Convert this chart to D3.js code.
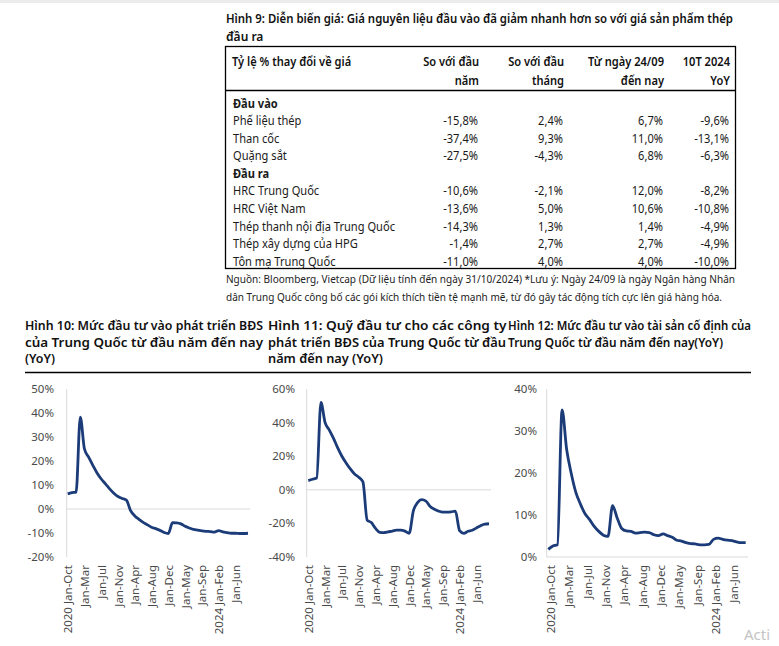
<!doctype html>
<html>
  <head>
    <meta charset="utf-8">
    <title>Hình 9 - 12</title>
    <script src="https://cdn.jsdelivr.net/npm/d3@7"></script>
    <style>
      body { margin: 0; background: #fff; }
      svg text { font-family: "Noto Sans", "DejaVu Sans", sans-serif; }
    </style>
  </head>
  <body>
    <script>
      // ---- Bảng Hình 9 ----
      const tableTitle = ['Hình 9: Diễn biến giá: Giá nguyên liệu đầu vào đã giảm nhanh hơn so với giá sản phẩm thép', 'đầu ra'];
      const colHeads = [['Tỷ lệ % thay đổi về giá'], ['So với đầu', 'năm'], ['So với đầu', 'tháng'], ['Từ ngày 24/09', 'đến nay'], ['10T 2024', 'YoY']];
      const groups = ['Đầu vào', 'Đầu ra'];
      const items = ['Phế liệu thép', 'Than cốc', 'Quặng sắt', 'HRC Trung Quốc', 'HRC Việt Nam',
        'Thép thanh nội địa Trung Quốc', 'Thép xây dựng của HPG', 'Tôn mạ Trung Quốc'];
      const itemGroup = [0, 0, 0, 1, 1, 1, 1, 1];
      const vsYearStart = [-15.8, -37.4, -27.5, -10.6, -13.6, -14.3, -1.4, -11.0];
      const vsMonthStart = [2.4, 9.3, -4.3, -2.1, 5.0, 1.3, 2.7, 4.0];
      const since2409 = [6.7, 11.0, 6.8, 12.0, 10.6, 1.4, 2.7, 4.0];
      const yoy10T = [-9.6, -13.1, -6.3, -8.2, -10.8, -4.9, -4.9, -10.0];
      const footnote = ['Nguồn: Bloomberg, Vietcap (Dữ liệu tính đến ngày 31/10/2024) *Lưu ý: Ngày 24/09 là ngày Ngân hàng Nhân',
        'dân Trung Quốc công bố các gói kích thích tiền tệ mạnh mẽ, từ đó gây tác động tích cực lên giá hàng hóa.'];

      // ---- Biểu đồ Hình 10 - 12 ----
      const periods = ['2020 Jan-Oct', 'Jan-Nov', 'Jan-Dec',
        '2021 Jan-Feb', 'Jan-Mar', 'Jan-Apr', 'Jan-May', 'Jan-Jun', 'Jan-Jul', 'Jan-Aug', 'Jan-Sep', 'Jan-Oct', 'Jan-Nov', 'Jan-Dec',
        '2022 Jan-Feb', 'Jan-Mar', 'Jan-Apr', 'Jan-May', 'Jan-Jun', 'Jan-Jul', 'Jan-Aug', 'Jan-Sep', 'Jan-Oct', 'Jan-Nov', 'Jan-Dec',
        '2023 Jan-Feb', 'Jan-Mar', 'Jan-Apr', 'Jan-May', 'Jan-Jun', 'Jan-Jul', 'Jan-Aug', 'Jan-Sep', 'Jan-Oct', 'Jan-Nov', 'Jan-Dec',
        '2024 Jan-Feb', 'Jan-Mar', 'Jan-Apr', 'Jan-May', 'Jan-Jun', 'Jan-Jul', 'Jan-Aug', 'Jan-Sep'];
      const reInvestment = [6.3, 6.8, 7.0, 38.3, 25.0, 21.6, 18.2, 15.0, 12.5, 10.5, 8.4, 6.6, 5.2, 4.4,
        3.7, -0.7, -2.9, -4.3, -5.6, -6.6, -7.6, -8.2, -8.9, -9.8, -10.2,
        -5.7, -5.8, -6.2, -7.2, -7.9, -8.5, -8.8, -9.1, -9.3, -9.4, -9.6,
        -9.0, -9.5, -9.8, -10.1, -10.1, -10.2, -10.2, -10.1];
      const devFunding = [5.5, 6.3, 7.0, 52.0, 40.0, 35.5, 30.6, 25.0, 20.0, 16.0, 12.4, 9.4, 7.5, 4.7,
        -18.0, -19.5, -23.0, -25.3, -25.5, -25.0, -24.6, -24.0, -24.0, -24.6, -25.9,
        -12.5, -7.6, -5.9, -6.7, -10.0, -11.6, -12.7, -13.3, -13.3, -13.1, -12.7,
        -24.3, -25.9, -24.7, -24.1, -22.7, -21.4, -20.4, -20.2];
      const fixedAsset = [1.8, 2.6, 2.9, 35.0, 25.6, 19.9, 15.4, 12.6, 10.3, 8.9, 7.3, 6.1, 5.2, 4.9,
        12.2, 9.3, 6.8, 6.2, 6.1, 5.7, 5.8, 5.9, 5.8, 5.3, 5.1,
        5.5, 5.1, 4.7, 4.0, 3.8, 3.4, 3.2, 3.1, 2.9, 2.9, 3.0,
        4.2, 4.5, 4.2, 4.0, 3.9, 3.6, 3.4, 3.4];
      const titles10 = ['Hình 10: Mức đầu tư vào phát triển BĐS', 'của Trung Quốc từ đầu năm đến nay', '(YoY)'];
      const titles11 = ['Hình 11: Quỹ đầu tư cho các công ty', 'phát triển BĐS của Trung Quốc từ đầu', 'năm đến nay (YoY)'];
      const titles12 = ['Hình 12: Mức đầu tư vào tài sản cố định của', 'Trung Quốc từ đầu năm đến nay(YoY)'];

      const W = 779, H = 646;
      const navy = '#1b3c78';
      const vi = d3.formatLocale({decimal: ',', thousands: '.', grouping: [3], currency: ['', ''], minus: '-'});
      const pct = v => vi.format('.1f')(v) + '%';

      const svg = d3.select('body').append('svg')
          .attr('width', W)
          .attr('height', H);

      svg.append('rect').attr('x', 0).attr('y', 0).attr('width', W).attr('height', 3).attr('fill', '#ececec');

      // ép chữ về đúng bề rộng
      function fitTo(sel, w) {
        sel.attr('textLength', w).attr('lengthAdjust', 'spacingAndGlyphs');
      }
      function squeeze(sel, k) {
        sel.each(function () {
          const n = this.getComputedTextLength();
          d3.select(this).attr('textLength', n * k).attr('lengthAdjust', 'spacingAndGlyphs');
        });
      }

      // ---- Hình 9 ----
      const tg = svg.append('g');
      const titleW = [507, null];
      tableTitle.forEach((t, i) => {
        const el = tg.append('text')
          .attr('x', 226).attr('y', 23 + i * 18)
          .attr('font-size', 12).attr('font-weight', 600).attr('fill', '#111')
          .text(t);
        if (titleW[i]) fitTo(el, titleW[i]);
      });

      // hệ số ép chữ lấy theo một dòng mẫu
      const probe = tg.append('text').attr('font-size', 12.5).text(items[5]);
      const kBody = 162 / probe.node().getComputedTextLength();
      probe.remove();

      tg.append('rect')
        .attr('x', 225.5).attr('y', 46.5).attr('width', 510).attr('height', 222)
        .attr('fill', 'none').attr('stroke', '#000').attr('stroke-width', 1.3);
      tg.append('line')
        .attr('x1', 225.5).attr('x2', 735.5).attr('y1', 90.5).attr('y2', 90.5)
        .attr('stroke', '#000').attr('stroke-width', 1.3);

      const colRight = [null, 479, 564, 664, 730];
      colHeads.forEach((lines, c) => {
        lines.forEach((t, j) => {
          const el = tg.append('text')
            .attr('x', c === 0 ? 232 : colRight[c])
            .attr('y', 66 + j * 19)
            .attr('text-anchor', c === 0 ? 'start' : 'end')
            .attr('font-size', 12.5).attr('font-weight', 600).attr('fill', '#111')
            .text(t);
          squeeze(el, kBody);
        });
      });

      // hàng: nhóm rồi các mục
      const rows = [];
      groups.forEach((g, gi) => {
        rows.push({label: g, head: true});
        items.forEach((it, i) => {
          if (itemGroup[i] === gi) {
            rows.push({label: it, vals: [vsYearStart[i], vsMonthStart[i], since2409[i], yoy10T[i]]});
          }
        });
      });
      const rowY = d3.scaleLinear().domain([0, rows.length - 1]).range([107.5, 265.8]);
      rows.forEach((r, i) => {
        const el = tg.append('text')
          .attr('x', 233).attr('y', rowY(i))
          .attr('font-size', 12.5).attr('font-weight', r.head ? 700 : 400).attr('fill', '#1a1a1a')
          .text(r.label);
        squeeze(el, kBody);
        if (r.vals) {
          r.vals.forEach((v, c) => {
            const n = tg.append('text')
              .attr('x', colRight[c + 1] - 1).attr('y', rowY(i))
              .attr('text-anchor', 'end')
              .attr('font-size', 12.5).attr('fill', '#1a1a1a')
              .text(pct(v));
            squeeze(n, kBody);
          });
        }
      });

      const fnW = [509, 496];
      footnote.forEach((t, i) => {
        const el = tg.append('text')
          .attr('x', 226).attr('y', 283 + i * 17.5)
          .attr('font-size', 10.5).attr('fill', '#222')
          .text(t);
        fitTo(el, fnW[i]);
      });

      // ---- Hình 10 - 12 ----
      function drawTitle(lines, x, widths) {
        lines.forEach((t, i) => {
          const el = svg.append('text')
            .attr('x', x).attr('y', 330 + i * 16.5)
            .attr('font-size', 12.3).attr('font-weight', 600).attr('fill', '#111')
            .text(t);
          if (widths[i]) fitTo(el, widths[i]);
        });
      }
      drawTitle(titles10, 25, [238, 238, 30]);
      drawTitle(titles11, 268, [238.5, 238, 115]);
      drawTitle(titles12, 508, [243, 215]);

      svg.append('line')
        .attr('x1', 25).attr('x2', 751).attr('y1', 372.5).attr('y2', 372.5)
        .attr('stroke', '#000').attr('stroke-width', 1.5);

      function drawChart(values, opt) {
        const g = svg.append('g');
        const x = d3.scalePoint().domain(d3.range(periods.length)).range([opt.xFirst, opt.xLast]);
        const y = d3.scaleLinear().domain(opt.domain).range([557, 389]);

        // trục dọc và đường 0%
        g.append('line')
          .attr('x1', opt.axisX).attr('x2', opt.axisX).attr('y1', y(opt.domain[1])).attr('y2', y(opt.domain[0]))
          .attr('stroke', '#d9d9d9').attr('stroke-width', 1);
        g.append('line')
          .attr('x1', opt.axisX).attr('x2', opt.zeroEnd).attr('y1', y(0)).attr('y2', y(0))
          .attr('stroke', '#d9d9d9').attr('stroke-width', 1);

        const yTicks = d3.range(opt.domain[0], opt.domain[1] + 0.001, opt.step);
        g.selectAll('.yt')
          .data(yTicks)
          .enter().append('text')
            .attr('x', opt.labelRight)
            .attr('y', d => y(d))
            .attr('dy', '0.35em')
            .attr('text-anchor', 'end')
            .attr('font-size', 11.5).attr('fill', '#4a4a4a')
            .text(d => vi.format('d')(d) + '%');

        g.selectAll('.xt')
          .data(d3.range(0, periods.length, 4))
          .enter().append('text')
            .attr('transform', d => `translate(${x(d) + opt.labelShift},565) rotate(-90)`)
            .attr('dy', '0.35em')
            .attr('text-anchor', 'end')
            .attr('font-size', 11.5).attr('fill', '#4a4a4a')
            .text(d => periods[d]);

        const line = d3.line()
          .x((d, i) => x(i))
          .y(d => y(d))
          .curve(d3.curveMonotoneX);
        g.append('path')
          .datum(values)
          .attr('d', line)
          .attr('fill', 'none')
          .attr('stroke', navy)
          .attr('stroke-width', 2.8)
          .attr('stroke-linejoin', 'round');
      }

      drawChart(reInvestment, {xFirst: 67.7, xLast: 248, axisX: 66.7, zeroEnd: 250, domain: [-20, 50], step: 10, labelRight: 54, labelShift: 0.5});
      drawChart(devFunding, {xFirst: 308.3, xLast: 489, axisX: 306.7, zeroEnd: 491, domain: [-40, 60], step: 20, labelRight: 295, labelShift: 0.5});
      drawChart(fixedAsset, {xFirst: 548.3, xLast: 745.7, axisX: 546.7, zeroEnd: 748, domain: [0, 40], step: 10, labelRight: 537, labelShift: 2.5});

      svg.append('text')
        .attr('x', 744).attr('y', 640)
        .attr('font-size', 15).attr('fill', '#c4c4c4')
        .text('Acti');
    </script>
  </body>
</html>
